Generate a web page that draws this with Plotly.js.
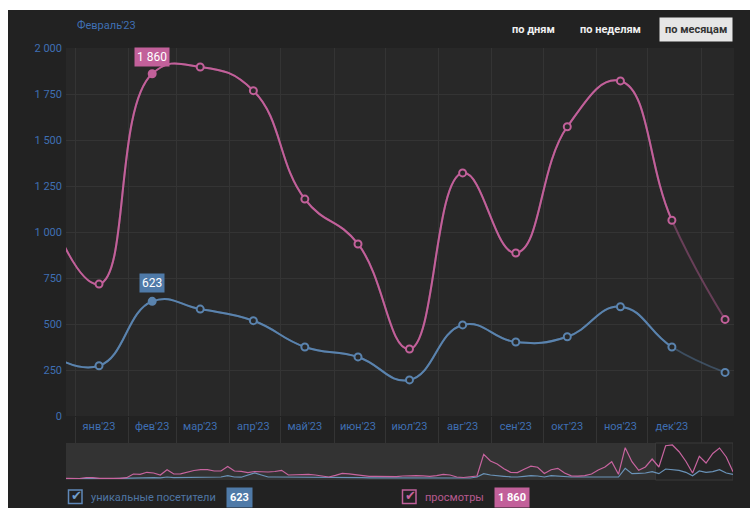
<!DOCTYPE html>
<html><head><meta charset="utf-8">
<script src="https://cdn.plot.ly/plotly-3.0.1.min.js"></script>
<style>
html,body{margin:0;padding:0;background:#ffffff;width:750px;height:508px;overflow:hidden}
#chart{position:absolute;left:8px;top:10px;width:742px;height:498px}
</style>
</head><body><div id="chart"></div>
<script>
// ---- data ----
const months = ['2022-12-15','2023-01-15','2023-02-15','2023-03-15','2023-04-15','2023-05-15','2023-06-15',
                '2023-07-15','2023-08-15','2023-09-15','2023-10-15','2023-11-15','2023-12-15','2024-01-15'];
const views    = [1150, 717, 1860, 1897, 1768, 1179, 935, 364, 1321, 886, 1572, 1821, 1064, 525];
const visitors = [ 350, 273,  623,  581,  518,  375, 321, 196,  495, 402,  431,  594,  375, 237];
const tickDates  = ['2023-01-15','2023-02-15','2023-03-15','2023-04-15','2023-05-15','2023-06-15',
                    '2023-07-15','2023-08-15','2023-09-15','2023-10-15','2023-11-15','2023-12-15'];
const tickLabels = ["янв'23","фев'23","мар'23","апр'23","май'23","июн'23",
                    "июл'23","авг'23","сен'23","окт'23","ноя'23","дек'23"];
const yTicks = [0, 250, 500, 750, 1000, 1250, 1500, 1750, 2000];
// overview navigator (weekly)
const navViews = [7,5,5,13,14,6,5,6,7,13,50,46,67,60,40,93,50,52,72,85,93,93,80,80,125,80,76,63,75,71,
                  70,75,87,40,44,47,47,40,27,20,37,57,51,43,36,27,27,25,20,24,30,33,33,31,27,33,47,40,20,15,
                  24,30,247,180,150,102,66,64,98,128,118,55,93,107,60,32,28,33,50,90,120,173,47,313,173,87,120,200,120,333,
                  340,273,178,60,227,160,255,310,220,73];
const navVisitors = [5,4,4,6,6,5,4,5,6,8,12,13,14,13,12,20,14,15,16,17,18,18,17,20,33,20,18,40,60,40,
                     20,20,20,18,16,16,15,14,13,13,14,16,16,15,13,12,12,11,11,11,10,10,10,10,10,12,13,11,8,8,
                     10,20,53,40,30,27,22,20,26,33,30,20,33,28,22,20,20,20,22,25,27,27,20,107,53,56,60,73,53,100,
                     95,87,67,33,80,67,73,93,60,47];
const selectedIndex = 2;
const periodLabel = "Февраль'23";
const seriesNames = ['уникальные посетители', 'просмотры'];
const periodButtons = ['по дням', 'по неделям', 'по месяцам'];

// ---- styles ----
const PINK = '#c2609a', BLUE = '#5a83ae', PLOTBG = '#282828', GRID = '#343434', LBL = '#3f6fb3';
const FONT = 'Roboto, "Noto Sans", sans-serif';
const xStart = '2022-12-26 18:00', xEnd = '2024-01-20 05:00', xSplit = '2023-12-15';
const t = s => Date.parse(s.replace(' ', 'T') + (s.length > 10 ? ':00Z' : 'T00:00:00Z'));
const f = (t(xSplit) - t(xStart)) / (t(xEnd) - t(xStart));
const yRange = [0, 2000];
const yDom = [(480 - 416) / 432, 1];
const SMOOTH = 1.3;
const fmt = v => String(v).replace(/\B(?=(\d{3})+(?!\d))/g, ' ');

const hidden = (extra) => Object.assign({visible:false, showgrid:false, zeroline:false, fixedrange:true}, extra);

const lineTrace = (y, color, xa, ya, op) => ({
  x: months, y: y, xaxis: xa, yaxis: ya, mode: 'lines', type: 'scatter', hoverinfo: 'skip',
  line: {color: color, width: 2, shape: 'spline', smoothing: SMOOTH}, opacity: op, showlegend: false
});
const markerTrace = (y, color) => ({
  x: months, y: y, xaxis: 'x5', yaxis: 'y5', mode: 'markers', type: 'scatter', hoverinfo: 'skip', showlegend: false,
  marker: {size: 7, color: months.map((_, i) => i === selectedIndex ? color : PLOTBG), line: {color: color, width: 2}}
});

const traces = [
  // full series, faded (visible only in the last, incomplete period)
  lineTrace(visitors, BLUE, 'x', 'y', 0.42),
  lineTrace(views, PINK, 'x', 'y', 0.42),
  // full series, bright, clipped to the complete periods
  lineTrace(visitors, BLUE, 'x2', 'y3', 1),
  lineTrace(views, PINK, 'x2', 'y3', 1),
  markerTrace(visitors, BLUE),
  markerTrace(views, PINK),
  {y: navVisitors, xaxis: 'x4', yaxis: 'y2', mode: 'lines', type: 'scatter', hoverinfo: 'skip', showlegend: false,
   line: {color: '#6a93b8', width: 1.2}},
  {y: navViews, xaxis: 'x4', yaxis: 'y2', mode: 'lines', type: 'scatter', hoverinfo: 'skip', showlegend: false,
   line: {color: '#c7649f', width: 1.2}}
];

// paper coordinate helpers (real pixel -> paper)
const px = X => (X - 66) / 668;
const py = Y => (480 - Y) / 432;
const txt = (X, Y, text, font, extra) => Object.assign({xref:'paper', yref:'paper', x: px(X), y: py(Y),
  xanchor:'center', yanchor:'middle', showarrow:false, text: text, font: font}, extra || {});

const annotations = [
  txt(75, 25, periodLabel, {family:FONT, size:11, color:LBL}, {xanchor:'left'}),
  txt(533, 29, '<b>'+periodButtons[0]+'</b>', {family:FONT, size:11, color:'#f0f0f0'}),
  txt(610, 29, '<b>'+periodButtons[1]+'</b>', {family:FONT, size:11, color:'#f0f0f0'}),
  txt(696, 29.5, '<b>'+periodButtons[2]+'</b>', {family:FONT, size:11, color:'#333333'}, {bgcolor:'#e6e6e6', borderpad:5}),
  {xref:'x', yref:'y', x: months[selectedIndex], y: views[selectedIndex], yshift: 17, showarrow:false,
   xanchor:'center', yanchor:'middle',
   text: fmt(views[selectedIndex]), bgcolor: PINK, borderpad: 2, font:{family:FONT, size:12, color:'#ffffff'}},
  {xref:'x', yref:'y', x: months[selectedIndex], y: visitors[selectedIndex], yshift: 18, showarrow:false,
   xanchor:'center', yanchor:'middle',
   text: fmt(visitors[selectedIndex]), bgcolor: '#4f7aa8', borderpad: 2, font:{family:FONT, size:12, color:'#ffffff'}},
  // legend
  txt(76.5, 495, '✔', {family:'DejaVu Sans', size:13, color:'#6f9ccc'}),
  txt(89, 497, seriesNames[0], {family:FONT, size:11, color:'#4f75a3'}, {xanchor:'left'}),
  txt(239.5, 497, '<b>'+fmt(visitors[selectedIndex])+'</b>', {family:FONT, size:11, color:'#ffffff'}, {bgcolor:'#4f7aa8', borderpad:3}),
  txt(410.5, 495, '✔', {family:'DejaVu Sans', size:13, color:'#c9649f'}),
  txt(423, 497, seriesNames[1], {family:FONT, size:11, color:'#b85a90'}, {xanchor:'left'}),
  txt(512, 497, '<b>'+fmt(views[selectedIndex])+'</b>', {family:FONT, size:11, color:'#ffffff'}, {bgcolor:PINK, borderpad:3})
];

const shapes = [
  // main plot background
  {type:'rect', layer:'below', xref:'paper', yref:'paper', x0:0, x1:1, y0:py(416), y1:1,
   fillcolor:PLOTBG, line:{width:0}},
  // navigator background and window
  {type:'rect', layer:'below', xref:'paper', yref:'paper', x0:0, x1:px(733), y0:0, y1:py(443),
   fillcolor:'#333333', line:{width:0}},
  {type:'rect', layer:'below', xref:'x4', yref:'paper', x0:87.5, x1:99, y0:0, y1:py(443),
   fillcolor:'#252525', line:{color:'#3a3a3a', width:1}},
  // legend checkboxes
  {type:'rect', xref:'paper', yref:'paper', x0:px(68.5), x1:px(82), y0:py(503.5), y1:py(490),
   line:{color:'#5f88b8', width:1.5}},
  {type:'rect', xref:'paper', yref:'paper', x0:px(402.5), x1:px(416), y0:py(503.5), y1:py(490),
   line:{color:'#c0609a', width:1.5}}
];

const layout = {
  width: 742, height: 498,
  margin: {l: 58, r: 16, t: 38, b: 28, pad: 0},
  paper_bgcolor: '#222222', plot_bgcolor: 'rgba(0,0,0,0)',
  separators: ', ',
  font: {family: FONT, size: 11, color: LBL},
  showlegend: false,
  xaxis: {type:'date', domain:[0,1], range:[xStart, xEnd], anchor:'y', fixedrange:true,
    tickmode:'array', tickvals: tickDates, ticktext: tickLabels, ticks:'', showgrid:false, zeroline:false,
    showline:false, ticklabelstandoff: 2, tickfont:{family:FONT, size:11, color:LBL},
    minor:{dtick:'M1', tick0:'2023-01-01', showgrid:true, gridcolor:GRID, gridwidth:1,
           ticks:'outside', ticklen:26, tickcolor:GRID, tickwidth:1}},
  yaxis: {domain:yDom, range:yRange, anchor:'x', fixedrange:true, tickmode:'array', tickvals:yTicks,
    separatethousands:true, showgrid:true, gridcolor:GRID, gridwidth:1, zeroline:false, ticks:'',
    ticklabelstandoff: 3, tickfont:{family:FONT, size:11, color:LBL}},
  xaxis2: hidden({type:'date', domain:[0,f], range:[xStart, xSplit], anchor:'y3'}),
  yaxis3: hidden({domain:yDom, range:yRange, anchor:'x2'}),
  xaxis5: hidden({type:'date', domain:[0,1], range:[xStart, xEnd], anchor:'y5'}),
  yaxis5: hidden({domain:yDom, range:yRange, anchor:'x5'}),
  xaxis4: hidden({domain:[0,px(733)], range:[0, navViews.length - 1], anchor:'y2'}),
  yaxis2: hidden({domain:[0, py(443)], range:[-10, 360], anchor:'x4'}),
  annotations: annotations,
  shapes: shapes
};

Plotly.newPlot('chart', traces, layout, {staticPlot: true, displayModeBar: false});
</script>
</body></html>
